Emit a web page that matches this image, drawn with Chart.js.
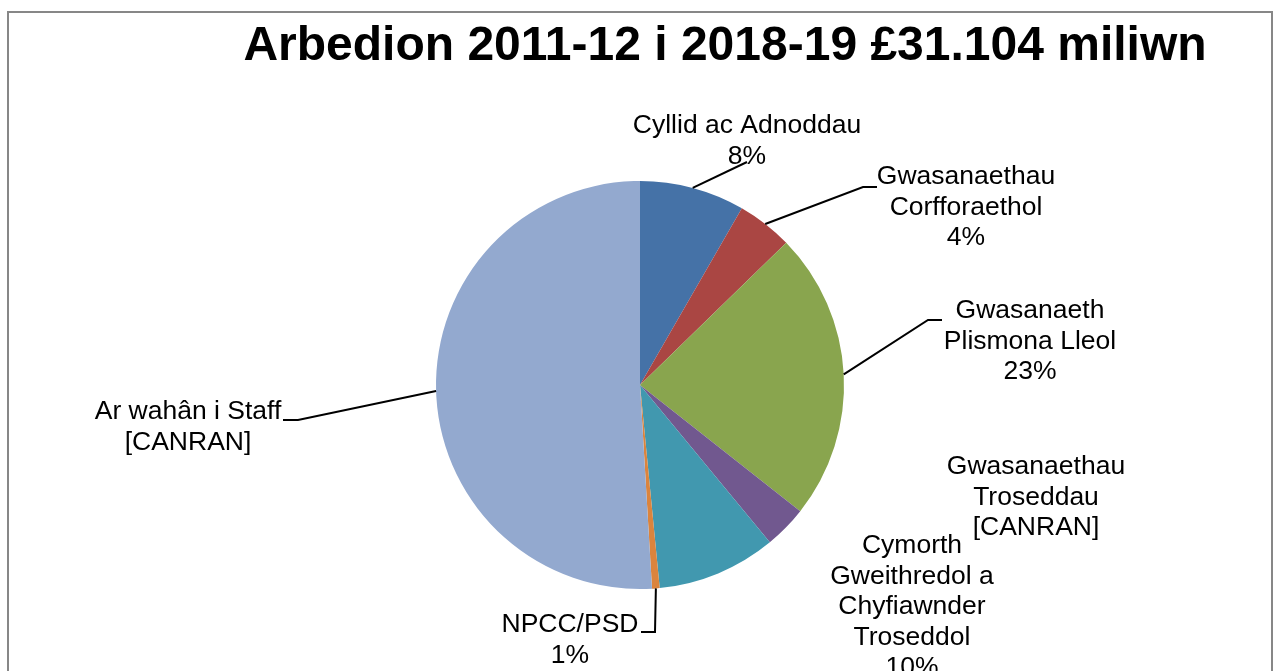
<!DOCTYPE html>
<html>
<head>
<meta charset="utf-8">
<script src="https://cdn.jsdelivr.net/npm/chart.js@4"></script>
<style>
  body { margin: 0; background: #fff; }
  canvas { display: block; }
</style>
</head>
<body>
<canvas id="pieChart" width="1274" height="671"></canvas>
<script>
// Data (share of the £31.104m, clockwise from 12 o'clock)
const categories = [
    'Cyllid ac Adnoddau',
    'Gwasanaethau Corfforaethol',
    'Gwasanaeth Plismona Lleol',
    'Gwasanaethau Troseddau',
    'Cymorth Gweithredol a Chyfiawnder Troseddol',
    'NPCC/PSD',
    'Ar wahân i Staff'
];
const shares = [8.32, 4.4, 22.9, 3.4, 9.44, 0.6, 50.94];
const shareLabels = ['8%', '4%', '23%', '[CANRAN]', '10%', '1%', '[CANRAN]'];
const sliceColours = ['#4572A7', '#AA4643', '#89A54E', '#71588F', '#4198AF', '#DB843D', '#93A9CF'];
const chartTitle = 'Arbedion 2011-12 i 2018-19 £31.104 miliwn';

// How each label is broken into lines, and where it sits
const labelLines = [
    ['Cyllid ac Adnoddau', shareLabels[0]],
    ['Gwasanaethau', 'Corfforaethol', shareLabels[1]],
    ['Gwasanaeth', 'Plismona Lleol', shareLabels[2]],
    ['Gwasanaethau', 'Troseddau', shareLabels[3]],
    ['Cymorth', 'Gweithredol a', 'Chyfiawnder', 'Troseddol', shareLabels[4]],
    ['NPCC/PSD', shareLabels[5]],
    ['Ar wahân i Staff', shareLabels[6]]
];
// cx = text centre, y = first baseline, leader = [elbow, end] or null
const labelLayout = [
    { cx: 747, y: 133, leader: [[747, 162]] },
    { cx: 966, y: 184, leader: [[863, 187], [877, 187]] },
    { cx: 1030, y: 318, leader: [[928, 320], [942, 320]] },
    { cx: 1036, y: 474, leader: null },
    { cx: 912, y: 553, leader: null },
    { cx: 570, y: 632, leader: [[655, 632], [641, 632]] },
    { cx: 188, y: 419, leader: [[298, 420], [283, 420]] }
];

const labelFont = '26.5px "Liberation Sans", Arial, sans-serif';
const lineGap = 30.5;

const decorations = {
    id: 'decorations',
    afterDraw(chart) {
        const ctx = chart.ctx;
        ctx.save();

        // outer frame
        ctx.strokeStyle = '#878787';
        ctx.lineWidth = 2;
        ctx.strokeRect(8, 12, 1264, 700);

        // title
        ctx.fillStyle = '#000';
        ctx.font = 'bold 48px "Liberation Sans", Arial, sans-serif';
        ctx.textAlign = 'center';
        ctx.textBaseline = 'alphabetic';
        ctx.fillText(chartTitle, 725, 60);

        // data labels with leader lines
        const arcs = chart.getDatasetMeta(0).data;
        ctx.font = labelFont;
        arcs.forEach((arc, i) => {
            const lay = labelLayout[i];
            if (lay.leader) {
                const mid = (arc.startAngle + arc.endAngle) / 2;
                ctx.beginPath();
                ctx.moveTo(arc.x + Math.cos(mid) * arc.outerRadius, arc.y + Math.sin(mid) * arc.outerRadius);
                lay.leader.forEach(p => ctx.lineTo(p[0], p[1]));
                ctx.strokeStyle = '#000';
                ctx.lineWidth = 2;
                ctx.stroke();
            }
            labelLines[i].forEach((line, k) => {
                ctx.fillText(line, lay.cx, lay.y + k * lineGap);
            });
        });

        ctx.restore();
    }
};

new Chart(document.getElementById('pieChart').getContext('2d'), {
    type: 'pie',
    data: {
        labels: categories,
        datasets: [{
            data: shares,
            backgroundColor: sliceColours,
            borderWidth: 0
        }]
    },
    options: {
        responsive: false,
        animation: false,
        layout: { padding: { left: 436, right: 430, top: 181, bottom: 82 } },
        plugins: {
            legend: { display: false },
            tooltip: { enabled: false },
            title: { display: false }
        }
    },
    plugins: [decorations]
});
</script>
</body>
</html>
